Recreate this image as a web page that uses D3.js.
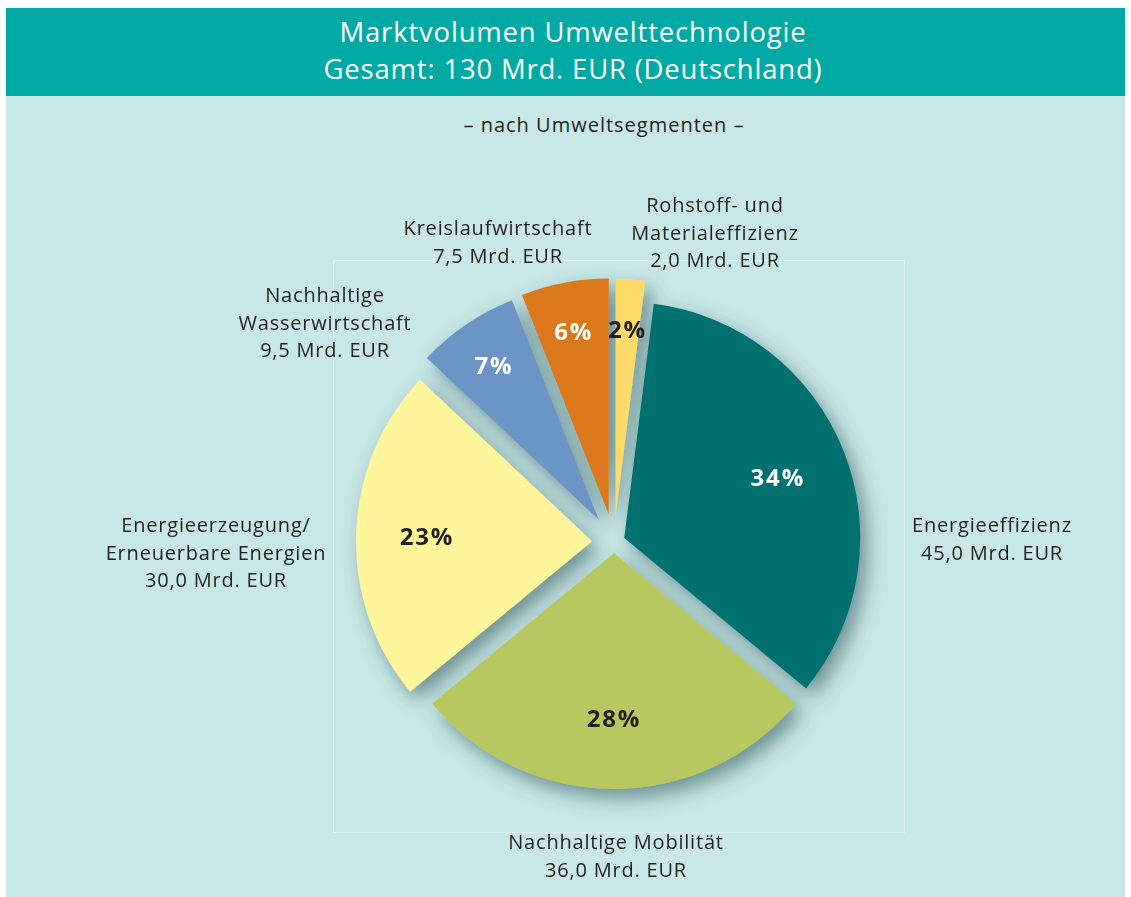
<!DOCTYPE html>
<html><head><meta charset="utf-8">
<script src="https://cdn.jsdelivr.net/npm/d3@7"></script>
<style>
html,body{margin:0;padding:0;background:#fff;}
svg{display:block;}
text{font-family:"Open Sans","Noto Sans",sans-serif;}
</style></head>
<body>
<script>
// ---- data ----
const categories = ["Energieeffizienz","Nachhaltige Mobilität","Energieerzeugung/ Erneuerbare Energien","Nachhaltige Wasserwirtschaft","Kreislaufwirtschaft","Rohstoff- und Materialeffizienz"];
const labelLines = [["Energieeffizienz"],["Nachhaltige Mobilität"],["Energieerzeugung/","Erneuerbare Energien"],["Nachhaltige","Wasserwirtschaft"],["Kreislaufwirtschaft"],["Rohstoff- und","Materialeffizienz"]];
const valuesMrd = [45.0, 36.0, 30.0, 9.5, 7.5, 2.0];
const percents = [34, 28, 23, 7, 6, 2];
const titleLines = ["Marktvolumen Umwelttechnologie","Gesamt: 130 Mrd. EUR (Deutschland)"];
const subtitle = "– nach Umweltsegmenten –";

// ---- styles / layout ----
const colors = ["#00716e","#b6c85f","#fff59a","#6b95c5","#db781c","#ffdb6b"];
const pctColor = ["#ffffff","#231f20","#231f20","#ffffff","#ffffff","#231f20"];
const explode = [11, 11, 22, 27, 28, 27];
const labelPos = [[992,532],[616,849],[216,532],[325,302],[498,235],[715,212]];
const W = 1131, H = 897;
const cx = 614, cy = 542, R = 236;

const svg = d3.select("body").append("svg").attr("width",W).attr("height",H);
const defs = svg.append("defs");
const f = defs.append("filter").attr("id","sh").attr("x","-30%").attr("y","-30%").attr("width","160%").attr("height","160%");
f.append("feGaussianBlur").attr("in","SourceAlpha").attr("stdDeviation",10).attr("result","b");
f.append("feOffset").attr("in","b").attr("dx",7).attr("dy",9).attr("result","o");
f.append("feFlood").attr("flood-color","#2e5558").attr("flood-opacity",0.6).attr("result","c");
f.append("feComposite").attr("in","c").attr("in2","o").attr("operator","in").attr("result","s");
const m = f.append("feMerge");
m.append("feMergeNode").attr("in","s");
m.append("feMergeNode").attr("in","SourceGraphic");

// background panels
svg.append("rect").attr("x",6).attr("y",95).attr("width",1119).attr("height",H-95).attr("fill","#c8e8e7");
svg.append("rect").attr("x",6).attr("y",8).attr("width",1119).attr("height",88).attr("fill","#00a9a4");
svg.append("rect").attr("x",333.5).attr("y",260.5).attr("width",571).attr("height",572)
  .attr("fill","none").attr("stroke","#d8f0ef").attr("stroke-width",1);

// title
svg.append("text").attr("text-anchor","middle").attr("fill","#fff")
  .attr("font-size",27.5).attr("letter-spacing",0.8)
  .selectAll("tspan").data(titleLines).join("tspan")
  .attr("x",573).attr("y",(d,i)=>42+i*37).text(d=>d);
svg.append("text").attr("x",604).attr("y",132).attr("text-anchor","middle")
  .attr("font-size",20).attr("letter-spacing",1).attr("fill","#231f20").text(subtitle);

// pie: starts so that the last (smallest) segment sits just right of 12 o'clock
const total = d3.sum(percents);
const a0 = 2*Math.PI*percents[percents.length-1]/total;
const pie = d3.pie().sort(null).value(d=>d).startAngle(a0).endAngle(a0+2*Math.PI)(percents);
const arc = d3.arc().innerRadius(0).outerRadius(R);
const g = svg.append("g").attr("transform",`translate(${cx},${cy})`);
const gs = g.append("g").attr("filter","url(#sh)");
function off(d,i){
  const a = (d.startAngle+d.endAngle)/2;
  return [Math.sin(a)*explode[i], -Math.cos(a)*explode[i]];
}
gs.selectAll("path").data(pie).join("path")
  .attr("d",arc)
  .attr("fill",(d,i)=>colors[i])
  .attr("transform",(d,i)=>{const o=off(d,i);return `translate(${o[0]},${o[1]})`;});

// percent labels
g.selectAll("text.pct").data(pie).join("text").attr("class","pct")
  .attr("transform",(d,i)=>{
    const o=off(d,i);
    const span=d.endAngle-d.startAngle;
    const lr = span<0.6 ? R*0.79 : R*0.7;
    const c=d3.arc().innerRadius(lr).outerRadius(lr).centroid(d);
    return `translate(${c[0]+o[0]},${c[1]+o[1]})`;
  })
  .attr("dy","0.36em").attr("text-anchor","middle")
  .attr("font-size",24).attr("font-weight","bold").attr("letter-spacing",1.8)
  .attr("fill",(d,i)=>pctColor[i])
  .text((d,i)=>percents[i]+"%");

// outer labels
const fmt = v => d3.format(".1f")(v).replace(".",",") + " Mrd. EUR";
categories.forEach((c,i)=>{
  const lines = labelLines[i].concat([fmt(valuesMrd[i])]);
  const t = svg.append("text").attr("text-anchor","middle").attr("font-size",20)
    .attr("letter-spacing",0.8).attr("fill","#231f20");
  t.selectAll("tspan").data(lines).join("tspan")
    .attr("x",labelPos[i][0]).attr("y",(d,k)=>labelPos[i][1]+k*27.5).text(d=>d);
});
</script>
</body></html>
